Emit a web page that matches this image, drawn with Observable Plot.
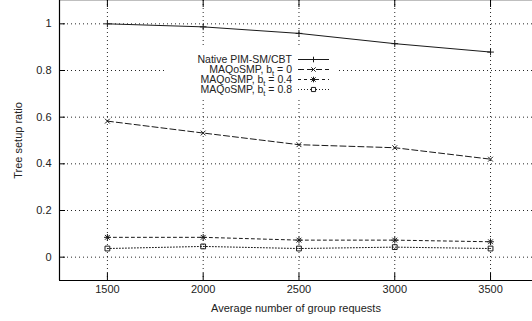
<!DOCTYPE html>
<html>
<head>
<meta charset="utf-8">
<script src="https://cdn.jsdelivr.net/npm/d3@7"></script>
<script src="https://cdn.jsdelivr.net/npm/@observablehq/plot@0.6"></script>
<style>
  html, body { margin: 0; padding: 0; background: #fff; }
  #wrap { position: relative; width: 532px; height: 321px; overflow: hidden; font-family: "Liberation Sans", Arial, Helvetica, sans-serif; }
  #legend { position: absolute; left: 167px; top: 47px; width: 170px; height: 51px; background: #fff; padding-top: 7px; box-sizing: border-box; }
  .row { display: flex; height: 10px; align-items: center; }
  .lab { width: 125px; text-align: right; font-size: 10.5px; line-height: 10px; height: 10px; color: #222; white-space: nowrap; overflow: visible; }
  .lab .sub { font-size: 7.5px; position: relative; top: 2.5px; line-height: 0; }
  .row svg { display: block; margin-left: 6px; }
</style>
</head>
<body>
<div id="wrap"></div>
<script>
// ---- data ----
const requests = [1500, 2000, 2500, 3000, 3500];
const nativeCBT = [1.0, 0.987, 0.959, 0.915, 0.879];
const maqBt0 = [0.583, 0.532, 0.482, 0.469, 0.42];
const maqBt04 = [0.085, 0.085, 0.073, 0.073, 0.066];
const maqBt08 = [0.037, 0.046, 0.037, 0.043, 0.037];
const seriesNames = ["Native PIM-SM/CBT", "MAQoSMP, b_t = 0", "MAQoSMP, b_t = 0.4", "MAQoSMP, b_t = 0.8"];
const xTicks = [1500, 2000, 2500, 3000, 3500];
const yTicks = [0, 0.2, 0.4, 0.6, 0.8, 1];
const xLabel = "Average number of group requests";
const yLabel = "Tree setup ratio";

const seriesValues = [nativeCBT, maqBt0, maqBt04, maqBt08];
const table = seriesValues.flatMap((vals, s) => requests.map((r, i) => ({series: seriesNames[s], x: r, y: vals[i]})));
const bySeries = name => table.filter(d => d.series === name);

const W = 532, H = 321, ML = 59, MB = 41, MT = 0, MR = 0;
const innerW = W - ML - MR, innerH = H - MT - MB;
const ink = "#1a1a1a";
const dashes = ["none", "6,3", "3,3", "1,2"];
const R = 2.3;

const lineMarks = seriesNames.map((name, s) =>
  Plot.line(bySeries(name), {x: "x", y: "y", stroke: ink, strokeWidth: 1, strokeDasharray: dashes[s]}));

const chart = Plot.plot({
  width: W, height: H,
  marginLeft: ML, marginRight: MR, marginTop: MT, marginBottom: MB,
  style: {fontFamily: "'Liberation Sans', Arial, Helvetica, sans-serif", fontSize: "11px", color: "#222", background: "#fff"},
  x: {domain: [1250, 3719]},
  y: {domain: [-0.1, 1.1]},
  marks: [
    Plot.gridX(xTicks, {stroke: "#000", strokeOpacity: 0.85, strokeDasharray: "1,3"}),
    Plot.gridY(yTicks, {stroke: "#000", strokeOpacity: 0.85, strokeDasharray: "1,3"}),
    Plot.ruleY([1.1], {stroke: "#000", strokeOpacity: 0.25}),
    Plot.ruleY([-0.1], {stroke: "#000", strokeWidth: 1.2}),
    Plot.ruleX([1250], {stroke: "#000", strokeWidth: 1.2}),
    Plot.tickX(xTicks, {x: d => d, insetTop: innerH - 7, stroke: "#000"}),
    Plot.tickX(xTicks, {x: d => d, insetBottom: innerH - 7, stroke: "#000"}),
    Plot.tickY(yTicks, {y: d => d, insetRight: innerW - 6, stroke: "#000"}),
    Plot.axisX(xTicks, {tickSize: 0, tickPadding: 5, tickFormat: d => String(d), label: xLabel, labelAnchor: "center", labelArrow: "none", labelOffset: 31}),
    Plot.axisY(yTicks, {tickSize: 0, tickPadding: 8, tickFormat: d => String(d), label: yLabel, labelAnchor: "center", labelArrow: "none", labelOffset: 45}),
    ...lineMarks,
    Plot.dot(bySeries(seriesNames[0]), {x: "x", y: "y", symbol: "plus", r: R, stroke: ink, strokeWidth: 1}),
    Plot.dot(bySeries(seriesNames[1]), {x: "x", y: "y", symbol: "times", r: R, stroke: ink, strokeWidth: 1}),
    Plot.dot(bySeries(seriesNames[2]), {x: "x", y: "y", symbol: "plus", r: R, stroke: ink, strokeWidth: 1}),
    Plot.dot(bySeries(seriesNames[2]), {x: "x", y: "y", symbol: "times", r: R, stroke: ink, strokeWidth: 1}),
    Plot.dot(bySeries(seriesNames[3]), {x: "x", y: "y", symbol: "square", r: R + 0.4, stroke: ink, fill: "none", strokeWidth: 1})
  ]
});

const wrap = document.getElementById("wrap");
wrap.appendChild(chart);

// ---- legend (key box inside the plot area) ----
const ns = "http://www.w3.org/2000/svg";
const leg = document.createElement("div");
leg.id = "legend";
const symbols = [["plus"], ["times"], ["plus", "times"], ["square"]];
const symSize = {plus: 12, times: 14, square: 22};
seriesNames.forEach((name, i) => {
  const row = document.createElement("div");
  row.className = "row";
  const lab = document.createElement("div");
  lab.className = "lab";
  const parts = name.split("b_t");
  if (parts.length === 2) {
    lab.appendChild(document.createTextNode(parts[0] + "b"));
    const sub = document.createElement("span");
    sub.className = "sub"; sub.textContent = "t";
    lab.appendChild(sub);
    lab.appendChild(document.createTextNode(parts[1]));
  } else lab.textContent = name;
  row.appendChild(lab);
  const svg = document.createElementNS(ns, "svg");
  svg.setAttribute("width", 34); svg.setAttribute("height", 10);
  const ln = document.createElementNS(ns, "line");
  ln.setAttribute("x1", 0); ln.setAttribute("x2", 31);
  ln.setAttribute("y1", 5.5); ln.setAttribute("y2", 5.5);
  ln.setAttribute("stroke", ink);
  if (dashes[i] !== "none") ln.setAttribute("stroke-dasharray", dashes[i]);
  svg.appendChild(ln);
  symbols[i].forEach(s => {
    const p = document.createElementNS(ns, "path");
    const st = {plus: d3.symbolPlus, times: d3.symbolTimes, square: d3.symbolSquare2}[s];
    p.setAttribute("d", d3.symbol(st, symSize[s])());
    p.setAttribute("transform", "translate(15.5,5.5)");
    p.setAttribute("stroke", ink); p.setAttribute("fill", s === "square" ? "#fff" : "none");
    svg.appendChild(p);
  });
  row.appendChild(svg);
  leg.appendChild(row);
});
wrap.appendChild(leg);
</script>
</body>
</html>
